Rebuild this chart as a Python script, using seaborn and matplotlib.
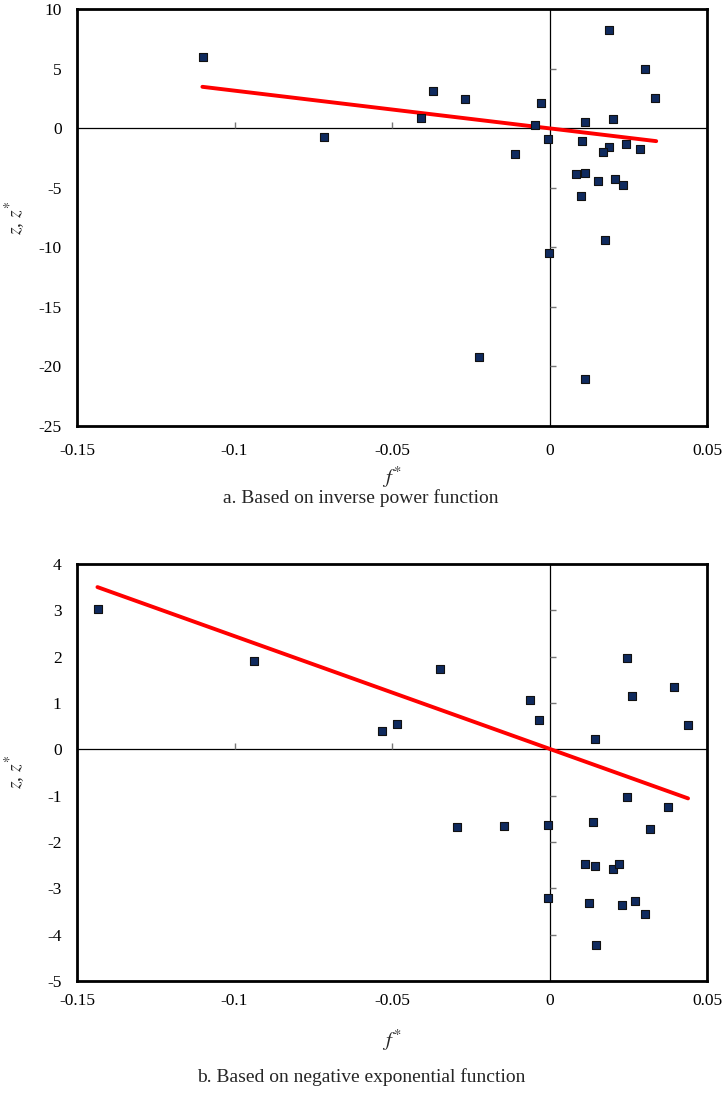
import numpy as np
import pandas as pd
import matplotlib
matplotlib.use("Agg")
import matplotlib.pyplot as plt
import seaborn as sns

# panel a: inverse power function
fa_x = [0.0187, 0.0302, 0.0334, -0.0027, -0.0048, 0.0111, 0.0200, -0.0004,
        0.0103, 0.0242, 0.0287, 0.0187, 0.0170, -0.0110, 0.0085, 0.0111,
        0.0153, 0.0206, 0.0232, 0.0098, 0.0175, -0.0003, -0.0225, 0.0113,
        -0.1100, -0.0717, -0.0408, -0.0371, -0.0268]
za_y = [8.2, 4.93, 2.49, 2.1, 0.28, 0.48, 0.73, -0.87,
        -1.09, -1.29, -1.76, -1.62, -2.02, -2.13, -3.86, -3.8,
        -4.45, -4.28, -4.79, -5.68, -9.38, -10.47, -19.17, -21.05,
        5.96, -0.78, 0.87, 3.08, 2.41]
fit_a_x = [-0.1102, 0.0338]
fit_a_y = [3.47, -1.09]

# panel b: negative exponential function
fb_x = [-0.1434, -0.0938, -0.0349, -0.0533, -0.0484, -0.0062, -0.0035, 0.0145,
        0.0245, 0.0260, 0.0394, 0.0438, 0.0244, 0.0374, -0.0144, -0.0005,
        0.0136, 0.0318, -0.0294, 0.0111, 0.0143, 0.0200, 0.0221, -0.0004,
        0.0126, 0.0229, 0.0270, 0.0302, 0.0148]
zb_y = [3.03, 1.91, 1.73, 0.40, 0.55, 1.06, 0.63, 0.22,
        1.98, 1.14, 1.35, 0.52, -1.02, -1.25, -1.66, -1.63,
        -1.56, -1.73, -1.67, -2.47, -2.51, -2.59, -2.48, -3.21,
        -3.32, -3.36, -3.28, -3.55, -4.23]
fit_b_x = [-0.1435, 0.0439]
fit_b_y = [3.50, -1.06]

x_ticks = [-0.15, -0.1, -0.05, 0, 0.05]
x_labels = ["-0.15", "-0.1", "-0.05", "0", "0.05"]
ya_ticks = [10, 5, 0, -5, -10, -15, -20, -25]
yb_ticks = [4, 3, 2, 1, 0, -1, -2, -3, -4, -5]

captions = ["a. Based on inverse power function",
            "b. Based on negative exponential function"]

sns.set_theme(style="white")
plt.rcParams["font.family"] = ["Liberation Serif", "DejaVu Serif"]
plt.rcParams["mathtext.fontset"] = "stix"
plt.rcParams["axes.unicode_minus"] = False

fig = plt.figure(figsize=(7.22, 10.98), dpi=100)
ax_a = fig.add_axes([0.1066, 0.612, 0.873, 0.3798])
ax_b = fig.add_axes([0.1066, 0.1066, 0.873, 0.3798])


def draw_panel(ax, fx, zy, lx, ly, yticks, ylim, pad):
    ax.axhline(0, color="black", lw=0.9, zorder=1)
    ax.axvline(0, color="black", lw=0.9, zorder=1)
    # small ticks on the zero axes
    inner_x = [t for t in x_ticks if t != 0 and x_ticks[0] < t < x_ticks[-1]]
    inner_y = [t for t in yticks if t != 0 and ylim[0] < t < ylim[1]]
    ax.plot(inner_x, [0] * len(inner_x), ls="", marker=2, ms=4.5,
            mew=1.0, color="#777777", zorder=1)
    ax.plot([0] * len(inner_y), inner_y, ls="", marker=1, ms=4.5,
            mew=1.0, color="#777777", zorder=1)

    df = pd.DataFrame({"f": fx, "z": zy})
    sns.lineplot(x=lx, y=ly, ax=ax, color="#ff0000", lw=2.8, zorder=2)
    sns.scatterplot(data=df, x="f", y="z", ax=ax, marker="s", s=32,
                    color="#0f2a5e", edgecolor="#111111", linewidth=0.8,
                    zorder=3)

    ax.set_xlim(x_ticks[0], x_ticks[-1])
    ax.set_ylim(*ylim)
    ax.set_xticks(x_ticks)
    ax.set_xticklabels(x_labels)
    ax.set_yticks(yticks)
    ax.set_yticklabels([str(t) for t in yticks])
    ax.tick_params(axis="both", length=0, labelsize=12.5, colors="black")
    ax.tick_params(axis="x", pad=pad)
    ax.tick_params(axis="y", pad=11)
    for sp in ax.spines.values():
        sp.set_visible(True)
        sp.set_color("black")
        sp.set_linewidth(2.0)
    ax.set_xlabel(r"$f^{*}$", fontsize=15)
    ax.set_ylabel(r"$z$, $z^{*}$", fontsize=14)
    ax.yaxis.set_label_coords(-0.08, 0.5)
    ax.grid(False)


draw_panel(ax_a, fa_x, za_y, fit_a_x, fit_a_y, ya_ticks, (-25, 10), 12)
draw_panel(ax_b, fb_x, zb_y, fit_b_x, fit_b_y, yb_ticks, (-5, 4), 9)
ax_a.xaxis.set_label_coords(0.5, -0.092)
ax_b.xaxis.set_label_coords(0.5, -0.112)

fig.text(0.5, 1 - 498 / 1098, captions[0], ha="center", va="center", fontsize=14)
fig.text(0.5, 1 - 1077 / 1098, captions[1], ha="center", va="center", fontsize=14)

fig.savefig("out.png", dpi=100)
